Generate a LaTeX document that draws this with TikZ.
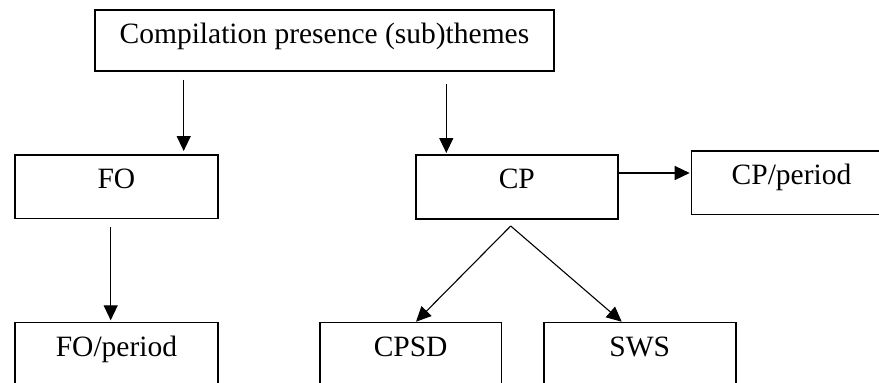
\documentclass[tikz,border=0pt]{standalone}
\usepackage{fontspec}
\setmainfont{Liberation Serif}
\usetikzlibrary{arrows.meta,calc}
\begin{document}
\begin{tikzpicture}[x=1pt,y=-1pt,
  box/.style={draw,line width=1.6pt,anchor=north west,inner sep=0pt,
    font=\fontsize{29.5}{34}\selectfont,text height=0.662em,text depth=0.25em},
  arr/.style={line width=1.3pt,-{Triangle[length=15pt,width=14pt]}},
  fan/.style={line width=1.1pt,-{Triangle[length=15pt,width=14pt]}}]
\useasboundingbox (0,0) rectangle (879,383);
\node[box,minimum width=458.7pt,minimum height=60.7pt,text depth=0pt] (top) at (94.3,9.3) {Compilation presence (sub)themes};
\node[box,minimum width=202.7pt,minimum height=63.7pt] (fo) at (14.3,154) {FO};
\node[box,minimum width=202pt,minimum height=64pt] (cp) at (415,154) {CP};
\node[box,minimum width=200pt,minimum height=63.7pt] (cpp) at (690.7,150) {CP/period};
\node[box,minimum width=202.7pt,minimum height=64.6pt] (fop) at (14.3,321.7) {FO/period};
\node[box,minimum width=181.7pt,minimum height=64.6pt] (cpsd) at (319,321.7) {CPSD};
\node[box,minimum width=192pt,minimum height=64.6pt] (sws) at (543,321.7) {SWS};
\coordinate (xa) at (183.7,0);
\coordinate (xb) at (446.3,0);
\coordinate (xc) at (110.7,0);
\coordinate (yd) at (0,173);
\coordinate (apex) at (510.7,226);
\coordinate (tl) at ([xshift=97pt]cpsd.north west);
\coordinate (tr) at ([xshift=78.7pt]sws.north west);
\draw[arr,shorten <=8pt,shorten >=3pt] (top.south -| xa) -- (fo.north -| xa);
\draw[arr,shorten <=12pt,shorten >=1pt] (top.south -| xb) -- (cp.north -| xb);
\draw[arr,shorten <=7.6pt,shorten >=1.4pt] (fo.south -| xc) -- (fop.north -| xc);
\draw[arr,shorten >=1pt] (cp.east |- yd) -- (cpp.west |- yd);
\draw[fan] (apex) -- (tl);
\draw[fan] (apex) -- (tr);
\end{tikzpicture}
\end{document}
